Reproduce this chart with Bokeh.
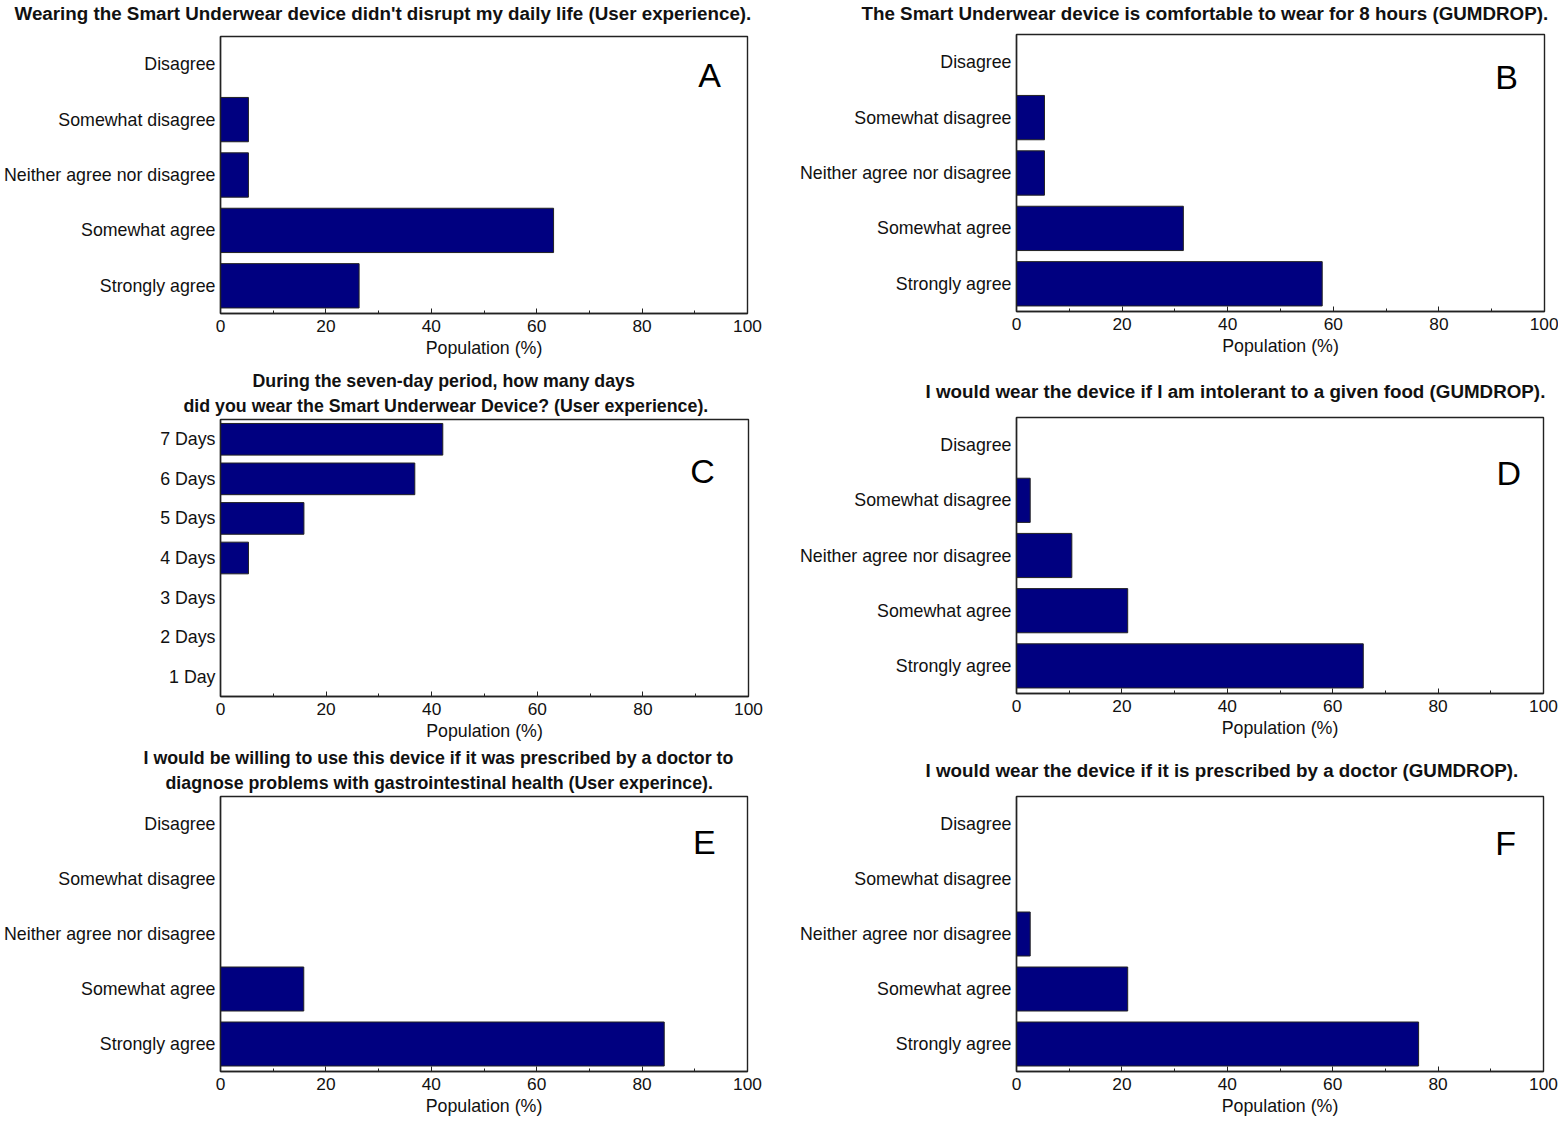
from bokeh.plotting import figure
from bokeh.models import FactorRange, Range1d, Title, Label, FixedTicker
from bokeh.layouts import row, column
from bokeh.embed import file_html
from bokeh.resources import INLINE

# ---------------- data ----------------
agree_levels = ["Disagree", "Somewhat disagree", "Neither agree nor disagree",
                "Somewhat agree", "Strongly agree"]
day_levels = ["7 Days", "6 Days", "5 Days", "4 Days", "3 Days", "2 Days", "1 Day"]

a_values = [0, 5.3, 5.3, 63.2, 26.3]
b_values = [0, 5.3, 5.3, 31.6, 57.9]
c_values = [42.1, 36.8, 15.8, 5.3, 0, 0, 0]
d_values = [0, 2.6, 10.5, 21.1, 65.8]
e_values = [0, 0, 0, 15.8, 84.2]
f_values = [0, 0, 2.6, 21.1, 76.3]

a_title = ["Wearing the Smart Underwear device didn't disrupt my daily life (User experience)."]
b_title = ["The Smart Underwear device is comfortable to wear for 8 hours (GUMDROP)."]
c_title = ["During the seven-day period, how many days",
           "did you wear the Smart Underwear Device? (User experience)."]
d_title = ["I would wear the device if I am intolerant to a given food (GUMDROP)."]
e_title = ["I would be willing to use this device if it was prescribed by a doctor to",
           "diagnose problems with gastrointestinal health (User experince)."]
f_title = ["I would wear the device if it is prescribed by a doctor (GUMDROP)."]

x_major_ticks = [0, 20, 40, 60, 80, 100]
x_minor_ticks = [10, 30, 50, 70, 90]
x_axis_label = "Population (%)"

FONT = "Liberation Sans"
BAR_FILL = "#000080"
EDGE = "#222222"
TXT = "#111111"


def make_panel(cats, vals, title_lines, title_offsets, title_size, spacer,
               letter, letter_x, letter_y, left, right, top, bottom, fw, fh):
    p = figure(y_range=FactorRange(factors=list(reversed(cats)), range_padding=0),
               x_range=Range1d(0, 100),
               frame_width=fw, frame_height=fh,
               min_border_left=left, min_border_right=right,
               min_border_top=top, min_border_bottom=bottom,
               toolbar_location=None, output_backend="svg", title=None)
    p.hbar(y=cats, left=0, right=vals, height=0.8,
           fill_color=BAR_FILL, line_color=EDGE, line_width=1)

    p.xgrid.grid_line_color = None
    p.ygrid.grid_line_color = None
    p.outline_line_color = EDGE
    p.outline_line_width = 1.4
    p.background_fill_color = "white"
    p.border_fill_color = "white"

    xa = p.xaxis[0]
    xa.ticker = FixedTicker(ticks=x_major_ticks, minor_ticks=x_minor_ticks)
    xa.major_tick_in = 5
    xa.major_tick_out = 0
    xa.minor_tick_in = 3
    xa.minor_tick_out = 0
    xa.major_tick_line_color = EDGE
    xa.minor_tick_line_color = EDGE
    xa.axis_line_color = EDGE
    xa.axis_line_width = 1.4
    xa.major_label_text_font = FONT
    xa.major_label_text_font_size = "17.3px"
    xa.major_label_text_color = TXT
    xa.major_label_standoff = 6
    xa.axis_label = x_axis_label
    xa.axis_label_text_font = FONT
    xa.axis_label_text_font_size = "17.8px"
    xa.axis_label_text_font_style = "normal"
    xa.axis_label_text_color = TXT
    xa.axis_label_standoff = 3

    ya = p.yaxis[0]
    ya.major_tick_in = 0
    ya.major_tick_out = 0
    ya.minor_tick_in = 0
    ya.minor_tick_out = 0
    ya.axis_line_color = EDGE
    ya.axis_line_width = 1.4
    ya.major_label_text_font = FONT
    ya.major_label_text_font_size = "17.8px"
    ya.major_label_text_color = TXT
    ya.major_label_standoff = 5

    # titles: the first one added sits closest to the frame
    if spacer is not None:
        sp_size, sp_standoff = spacer
        p.add_layout(Title(text=" ", text_font=FONT, text_font_size=sp_size,
                           standoff=sp_standoff), "above")
        first_standoff = 0
    else:
        first_standoff = 7
    for i, (txt, off) in enumerate(reversed(list(zip(title_lines, title_offsets)))):
        t = Title(text=txt, align="left", offset=off,
                  text_font=FONT, text_font_style="bold", text_font_size=title_size,
                  text_color=TXT, standoff=first_standoff if i == 0 else 0)
        p.add_layout(t, "above")

    p.add_layout(Label(x=letter_x, y=letter_y, text=letter,
                       text_font=FONT, text_font_size="34px",
                       text_align="center", text_baseline="middle",
                       text_color="black"))
    return p


pa = make_panel(agree_levels, a_values, a_title, [-206], "18.8px", ("10px", 0),
                "A", 92.8, 4.30, 220, 33, 36, 52, 527, 277)
pc = make_panel(day_levels, c_values, c_title, [32, -37], "17.8px", None,
                "C", 91.3, 5.69, 217, 35, 54, 48, 528, 277)
pe = make_panel(agree_levels, e_values, e_title, [-77, -55], "17.8px", None,
                "E", 91.8, 4.17, 219, 34, 52, 48, 527, 275)

pb = make_panel(agree_levels, b_values, b_title, [-155], "18.8px", ("8px", 0),
                "B", 92.8, 4.24, 235, 14, 33, 52, 528, 277)
pd = make_panel(agree_levels, d_values, d_title, [-91], "18.8px", ("10px", 3),
                "D", 93.4, 4.0, 234, 16, 54, 50, 527, 276)
pf = make_panel(agree_levels, f_values, f_title, [-91], "18.8px", ("10px", 3),
                "F", 92.8, 4.15, 234, 16, 53, 47, 527, 275)

layout = row(column(pa, pc, pe), column(pb, pd, pf))

open("out.html", "w").write(file_html(layout, INLINE))
